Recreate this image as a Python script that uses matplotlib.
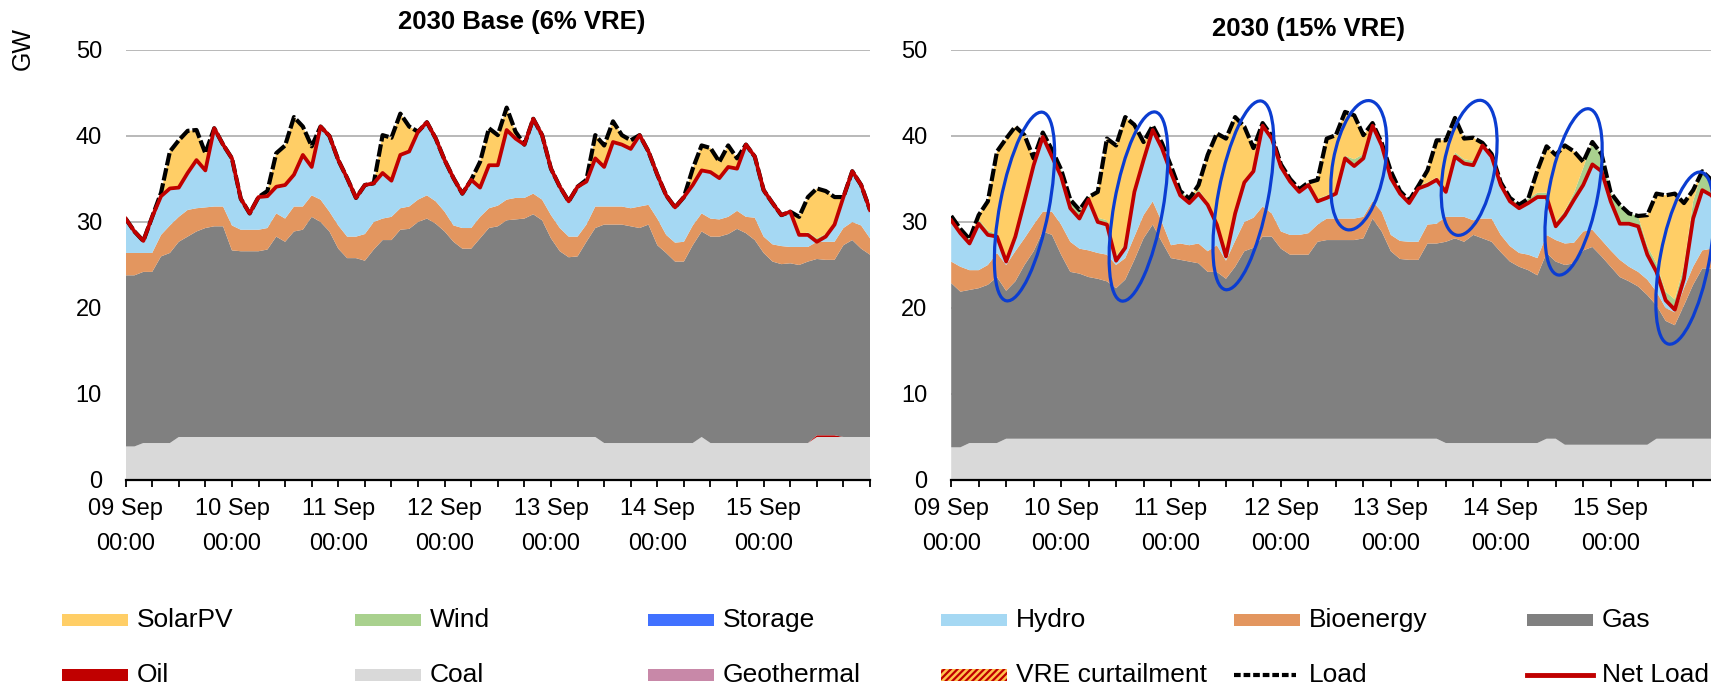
import numpy as np
import matplotlib
matplotlib.use("Agg")
import matplotlib.pyplot as plt
from matplotlib.patches import Ellipse, Rectangle
from matplotlib.lines import Line2D
from matplotlib.transforms import ScaledTranslation

plt.rcParams['font.family'] = ['Liberation Sans', 'DejaVu Sans']
plt.rcParams['hatch.linewidth'] = 1.6

# ---------------------------------------------------------
# Dispatch data, 09 Sep 00:00 to 16 Sep 00:00, every 2 hours (GW)
# ---------------------------------------------------------
hours = np.arange(0, 169, 2)
day_ticks = [0, 24, 48, 72, 96, 120, 144, 168]
day_labels = ['09 Sep\n00:00', '10 Sep\n00:00', '11 Sep\n00:00', '12 Sep\n00:00',
              '13 Sep\n00:00', '14 Sep\n00:00', '15 Sep\n00:00', '']

# 2030 Base (6% VRE)
coal_base = [3.9, 3.9, 4.3, 4.3, 4.3, 4.3, 5.0, 5.0, 5.0, 5.0, 5.0, 5.0,
             5.0, 5.0, 5.0, 5.0, 5.0, 5.0, 5.0, 5.0, 5.0, 5.0, 5.0, 5.0,
             5.0, 5.0, 5.0, 5.0, 5.0, 5.0, 5.0, 5.0, 5.0, 5.0, 5.0, 5.0,
             5.0, 5.0, 5.0, 5.0, 5.0, 5.0, 5.0, 5.0, 5.0, 5.0, 5.0, 5.0,
             5.0, 5.0, 5.0, 5.0, 5.0, 5.0, 4.3, 4.3, 4.3, 4.3, 4.3, 4.3,
             4.3, 4.3, 4.3, 4.3, 4.3, 5.0, 4.3, 4.3, 4.3, 4.3, 4.3, 4.3,
             4.3, 4.3, 4.3, 4.3, 4.3, 4.3, 5.0, 5.0, 5.0, 5.0, 5.0, 5.0,
             5.0]
oil_base = [0.0] * 78 + [0.2, 0.2, 0.2, 0.0, 0.0, 0.0, 0.0]
gas_base = [19.9, 19.9, 19.9, 19.9, 21.7, 22.1, 22.7, 23.3, 23.9, 24.3, 24.5, 24.5,
            21.7, 21.6, 21.6, 21.6, 21.8, 23.3, 22.7, 23.9, 24.1, 25.6, 25.0, 23.9,
            21.9, 20.8, 20.8, 20.5, 21.8, 22.9, 22.9, 24.1, 24.2, 25.0, 25.4, 24.8,
            23.9, 22.7, 21.9, 21.9, 23.1, 24.3, 24.5, 25.2, 25.3, 25.4, 25.9, 25.2,
            23.1, 21.6, 20.9, 21.0, 22.7, 24.3, 25.4, 25.4, 25.4, 25.2, 25.0, 25.4,
            23.0, 22.1, 21.1, 21.1, 23.0, 23.9, 24.0, 24.0, 24.3, 24.9, 24.4, 23.6,
            22.1, 21.1, 20.8, 20.9, 20.7, 21.1, 20.5, 20.4, 20.4, 22.3, 22.9, 21.9,
            21.2]
bio_base = [2.6, 2.6, 2.2, 2.2, 2.5, 3.2, 2.9, 3.1, 2.7, 2.4, 2.3, 2.3,
            2.9, 2.5, 2.5, 2.5, 2.5, 2.7, 2.7, 2.9, 2.7, 2.5, 2.6, 2.3,
            2.7, 2.5, 2.5, 3.1, 3.2, 2.5, 2.7, 2.5, 2.6, 2.6, 2.7, 2.6,
            2.3, 1.9, 2.4, 2.4, 2.5, 2.3, 2.4, 2.4, 2.5, 2.4, 2.4, 2.4,
            2.7, 2.7, 2.4, 2.3, 2.0, 2.5, 2.1, 2.1, 2.1, 2.1, 2.5, 2.3,
            3.1, 2.1, 2.2, 2.3, 2.3, 2.1, 2.1, 2.0, 2.0, 2.1, 1.9, 2.6,
            1.9, 2.0, 2.1, 1.9, 2.1, 1.7, 2.0, 2.1, 2.1, 2.0, 2.1, 2.7,
            1.9]
wind_base = [0.0] * 77 + [0.3, 0.4, 0.3, 0.0, 0.0, 0.0, 0.0, 0.0]
load_base = [30.4, 28.9, 27.8, 30.6, 33.4, 38.2, 39.5, 40.6, 40.7, 38.0, 40.9, 39.0,
             37.4, 32.7, 31.0, 32.9, 33.6, 38.0, 38.9, 42.2, 41.1, 38.8, 41.1, 40.0,
             37.2, 35.1, 32.8, 34.3, 34.5, 40.1, 39.8, 42.6, 41.1, 40.5, 41.6, 39.7,
             37.2, 35.1, 33.3, 34.9, 37.0, 40.9, 40.1, 43.3, 40.5, 39.0, 42.0, 40.1,
             36.2, 34.1, 32.4, 34.1, 34.9, 40.1, 38.9, 41.7, 40.1, 39.5, 40.1, 38.2,
             35.5, 33.1, 31.7, 32.9, 36.2, 38.9, 38.6, 37.0, 38.9, 37.4, 39.0, 37.6,
             33.7, 32.2, 30.8, 31.2, 30.6, 32.9, 33.9, 33.6, 32.9, 32.9, 35.9, 34.3,
             31.4]
net_base = [30.4, 28.9, 27.8, 30.6, 33.0, 33.9, 34.0, 35.7, 37.2, 36.0, 40.9, 39.0,
            37.4, 32.7, 31.0, 32.9, 33.0, 34.1, 34.3, 35.5, 37.8, 36.4, 41.1, 40.0,
            37.2, 35.1, 32.8, 34.3, 34.5, 35.7, 34.8, 37.8, 38.2, 40.5, 41.6, 39.7,
            37.2, 35.1, 33.3, 34.9, 34.0, 36.6, 36.6, 40.7, 39.7, 39.0, 42.0, 40.1,
            36.2, 34.1, 32.4, 34.1, 34.7, 37.4, 36.4, 39.3, 39.0, 38.5, 40.1, 38.2,
            35.5, 33.1, 31.7, 32.9, 34.3, 36.0, 35.8, 35.1, 36.4, 36.2, 39.0, 37.6,
            33.7, 32.2, 30.8, 31.2, 28.5, 28.5, 27.7, 28.3, 29.7, 32.9, 35.9, 34.3,
            31.4]

# 2030 (15% VRE)
coal_vre = [3.8, 3.8, 4.3, 4.3, 4.3, 4.3, 4.8, 4.8, 4.8, 4.8, 4.8, 4.8,
            4.8, 4.8, 4.8, 4.8, 4.8, 4.8, 4.8, 4.8, 4.8, 4.8, 4.8, 4.8,
            4.8, 4.8, 4.8, 4.8, 4.8, 4.8, 4.8, 4.8, 4.8, 4.8, 4.8, 4.8,
            4.8, 4.8, 4.8, 4.8, 4.8, 4.8, 4.8, 4.8, 4.8, 4.8, 4.8, 4.8,
            4.8, 4.8, 4.8, 4.8, 4.8, 4.8, 4.3, 4.3, 4.3, 4.3, 4.3, 4.3,
            4.3, 4.3, 4.3, 4.3, 4.3, 4.8, 4.8, 4.1, 4.1, 4.1, 4.1, 4.1,
            4.1, 4.1, 4.1, 4.1, 4.1, 4.8, 4.8, 4.8, 4.8, 4.8, 4.8, 4.8,
            4.8]
gas_vre = [19.1, 18.1, 17.8, 18.0, 18.4, 19.3, 17.2, 18.3, 20.2, 21.8, 24.1, 23.7,
           21.4, 19.4, 19.2, 18.8, 18.6, 18.3, 17.5, 18.5, 20.8, 23.3, 24.9, 22.9,
           21.0, 20.8, 20.6, 20.4, 19.4, 19.4, 18.6, 20.0, 21.8, 22.2, 23.5, 23.5,
           22.1, 21.4, 21.4, 21.4, 22.9, 23.1, 23.1, 23.1, 23.1, 23.3, 25.6, 24.1,
           21.8, 20.9, 20.8, 20.8, 22.7, 22.7, 23.4, 23.8, 23.4, 24.2, 23.8, 23.4,
           22.2, 21.1, 20.5, 20.1, 19.5, 21.6, 20.6, 20.9, 21.1, 22.6, 23.0, 21.9,
           20.7, 19.5, 19.0, 18.4, 17.4, 15.5, 13.7, 13.2, 15.5, 17.9, 19.8, 19.8,
           19.8]
bio_vre = [2.5, 2.9, 2.3, 2.1, 2.3, 2.8, 3.0, 3.5, 3.1, 3.1, 2.3, 2.7,
           3.5, 3.5, 2.9, 3.1, 3.0, 3.1, 2.7, 2.5, 2.7, 2.7, 2.7, 2.3,
           1.5, 1.9, 1.9, 2.3, 2.4, 3.1, 2.1, 3.0, 3.4, 3.5, 3.5, 2.7,
           2.0, 2.3, 2.3, 2.5, 2.0, 2.5, 2.5, 2.5, 2.5, 2.5, 2.0, 2.3,
           1.9, 2.1, 2.1, 2.1, 2.2, 2.3, 2.9, 2.5, 2.9, 1.7, 2.3, 2.7,
           2.0, 1.8, 1.6, 1.8, 2.0, 2.1, 2.5, 2.5, 2.4, 2.2, 2.0, 1.9,
           1.9, 2.0, 1.7, 1.7, 1.8, 1.6, 1.5, 1.5, 2.0, 2.1, 2.1, 2.3,
           2.3]
wind_vre = [0.5, 0.5, 0.5, 0.5, 0.5, 0.3, 0.3, 0.3, 0.3, 0.5, 0.5, 0.8,
            0.8, 1.0, 1.0, 0.3, 0.5, 0.5, 0.5, 0.5, 0.5, 0.3, 0.5, 0.6,
            0.8, 0.5, 0.5, 0.5, 0.3, 0.3, 0.3, 0.3, 0.3, 0.3, 0.3, 0.3,
            0.3, 0.3, 0.3, 0.3, 0.3, 0.3, 0.3, 0.3, 0.8, 0.5, 0.3, 0.3,
            0.8, 0.3, 0.3, 0.3, 0.3, 0.3, 0.3, 0.5, 0.5, 0.5, 0.3, 0.3,
            0.3, 0.4, 0.4, 0.5, 0.5, 0.5, 0.5, 0.5, 0.8, 2.0, 2.6, 2.0,
            1.0, 2.2, 1.2, 1.2, 1.0, 1.0, 1.0, 1.2, 1.5, 2.0, 2.2, 1.8,
            1.5]
load_vre = [30.7, 29.2, 28.0, 30.8, 32.4, 38.2, 39.7, 41.1, 40.1, 37.4, 40.4, 38.4,
            36.1, 32.6, 31.4, 32.9, 33.5, 39.7, 38.9, 42.2, 41.3, 39.3, 41.2, 39.2,
            36.5, 33.6, 32.7, 34.3, 37.8, 40.3, 39.7, 42.2, 41.1, 38.6, 41.5, 40.0,
            36.7, 35.0, 33.8, 34.6, 34.9, 39.7, 40.1, 42.8, 42.4, 40.1, 41.5, 39.2,
            35.9, 33.6, 32.5, 34.2, 36.0, 39.5, 39.5, 42.1, 39.7, 39.8, 39.2, 37.9,
            34.6, 32.8, 32.0, 32.7, 36.0, 38.8, 37.8, 38.9, 38.2, 37.0, 39.3, 37.9,
            33.4, 32.0, 31.0, 30.7, 30.8, 33.3, 33.1, 33.3, 32.2, 33.7, 35.9, 34.9,
            33.0]
net_vre = [30.2, 28.7, 27.5, 29.8, 28.5, 28.3, 25.4, 28.3, 32.4, 36.6, 39.9, 37.6,
           35.3, 31.6, 30.4, 32.6, 30.0, 29.7, 25.5, 27.0, 33.5, 37.2, 40.7, 38.6,
           35.7, 33.1, 32.2, 33.3, 32.0, 29.7, 26.0, 31.0, 34.6, 35.9, 41.2, 39.7,
           36.4, 34.7, 33.5, 34.3, 32.4, 32.8, 33.3, 37.4, 36.5, 37.4, 41.2, 38.9,
           35.1, 33.3, 32.2, 33.9, 34.3, 34.9, 33.5, 37.6, 36.8, 36.6, 38.9, 37.6,
           34.3, 32.4, 31.6, 32.2, 32.9, 32.9, 29.5, 30.8, 32.6, 34.3, 36.7, 35.9,
           32.4, 29.8, 29.8, 29.5, 26.2, 24.2, 20.9, 19.8, 23.4, 30.4, 33.7, 33.1,
           31.5]

# hours of ramp highlighted on the 15% VRE panel: centre (h, GW), size (px), tilt
ramp_hours = [16.0, 40.9, 63.8, 89.0, 113.1, 135.9, 160.2]
ramp_gw = [31.8, 31.8, 33.1, 36.6, 36.3, 33.5, 25.8]
ramp_len = [192, 192, 192, 131, 137, 169, 175]
ramp_wid = [49, 49, 50, 52, 51, 49, 49]
ramp_tilt = [-10.9, -10.1, -10.8, -10.0, -10.4, -10.6, -10.7]

colors = {
    'SolarPV': '#FFCE66', 'Wind': '#A9D18E', 'Storage': '#4171FF',
    'Hydro': '#A5D8F3', 'Bioenergy': '#E3965F', 'Gas': '#808080',
    'Oil': '#C00000', 'Coal': '#D9D9D9', 'Geothermal': '#C888A8',
}
NET_RED = '#C00000'
ELLIPSE_BLUE = '#0B3DD1'

W, H = 1711, 686
fig = plt.figure(figsize=(W / 100, H / 100), dpi=100)
ax1 = fig.add_axes([125.6 / W, 206 / H, 744.4 / W, 430 / H])
ax2 = fig.add_axes([951.2 / W, 206 / H, 769.4 / W, 430 / H])


def draw_panel(ax, coal, oil, gas, bio, wind, load, net):
    coal, oil, gas, bio, wind = (np.array(a, float) for a in (coal, oil, gas, bio, wind))
    load, net = np.array(load, float), np.array(net, float)
    hydro = np.maximum(net - coal - oil - gas - bio, 0)
    solar = np.maximum(load - net - wind, 0)
    zero = np.zeros_like(coal)
    layers = [zero, coal, oil, gas, bio, hydro, zero, wind, solar]
    names = ['Geothermal', 'Coal', 'Oil', 'Gas', 'Bioenergy', 'Hydro',
             'Storage', 'Wind', 'SolarPV']
    ax.stackplot(hours, *layers, colors=[colors[n] for n in names],
                 linewidth=0, zorder=1)
    ax.plot(hours, load, color='black', lw=3.0, ls=(0, (3.0, 0.7)), zorder=3)
    ax.plot(hours, net, color=NET_RED, lw=2.7, zorder=4)

    ax.set_xlim(0, 168)
    ax.set_ylim(0, 50)
    ax.set_yticks(range(0, 51, 10))
    ax.grid(axis='y', color='#A6A6A6', lw=1.1)
    ax.set_axisbelow(True)
    for side in ['top', 'right', 'left']:
        ax.spines[side].set_visible(False)
    ax.spines['bottom'].set_linewidth(1.6)
    ax.spines['bottom'].set_zorder(6)
    ax.set_xticks(day_ticks)
    ax.set_xticklabels(day_labels)
    ax.set_xticks(range(0, 169, 6), minor=True)
    ax.tick_params(axis='x', which='both', length=5, width=1.3, direction='out',
                   pad=8, labelsize=17)
    ax.tick_params(axis='y', length=0, pad=17, labelsize=17)
    for lbl in ax.get_xticklabels():
        lbl.set_linespacing(1.75)


draw_panel(ax1, coal_base, oil_base, gas_base, bio_base, wind_base, load_base, net_base)
draw_panel(ax2, coal_vre, [0.0] * len(hours), gas_vre, bio_vre, wind_vre, load_vre, net_vre)

for xc, yc, ln, wd, tilt in zip(ramp_hours, ramp_gw, ramp_len, ramp_wid, ramp_tilt):
    tr = fig.dpi_scale_trans + ScaledTranslation(xc, yc, ax2.transData)
    ax2.add_artist(Ellipse((0, 0), wd / 100, ln / 100, angle=tilt, transform=tr,
                           fill=False, edgecolor=ELLIPSE_BLUE, lw=2.3, zorder=5))

fig.text(522 / W, 1 - 22.5 / H, '2030 Base (6% VRE)', ha='center', va='center',
         fontsize=18.5, fontweight='bold')
fig.text(1308 / W, 1 - 29 / H, '2030 (15% VRE)', ha='center', va='center',
         fontsize=18.5, fontweight='bold')
fig.text(23 / W, 1 - 48 / H, 'GW', rotation=90, ha='center', va='center', fontsize=18)

# legend laid out on a fixed 6 x 2 grid
legend_rows = [
    [('SolarPV', 'patch'), ('Wind', 'patch'), ('Storage', 'patch'),
     ('Hydro', 'patch'), ('Bioenergy', 'patch'), ('Gas', 'patch')],
    [('Oil', 'patch'), ('Coal', 'patch'), ('Geothermal', 'patch'),
     ('VRE curtailment', 'hatch'), ('Load', 'dash'), ('Net Load', 'line')],
]
col_x = [62, 355, 648, 941, 1234, 1527]
row_y = [620, 675]
for r, row in enumerate(legend_rows):
    yc = 1 - row_y[r] / H
    for c, (name, kind) in enumerate(row):
        x0 = col_x[c] / W
        if kind == 'patch':
            fig.add_artist(Rectangle((x0, yc - 6 / H), 66 / W, 12 / H,
                                     transform=fig.transFigure,
                                     facecolor=colors[name], lw=0))
        elif kind == 'hatch':
            fig.add_artist(Rectangle((x0, yc - 6 / H), 66 / W, 12 / H,
                                     transform=fig.transFigure, facecolor='#FFC24D',
                                     edgecolor=NET_RED, hatch='/////', lw=0))
        elif kind == 'dash':
            fig.add_artist(Line2D([x0, x0 + 62 / W], [yc, yc], transform=fig.transFigure,
                                  color='black', lw=3.0, ls=(0, (1.6, 0.7))))
        else:
            fig.add_artist(Line2D([x0, x0 + 66 / W], [yc, yc], transform=fig.transFigure,
                                  color=NET_RED, lw=3.5))
        fig.text(x0 + 75 / W, yc, name, ha='left', va='center', fontsize=19)

fig.savefig('out.png', dpi=100)
